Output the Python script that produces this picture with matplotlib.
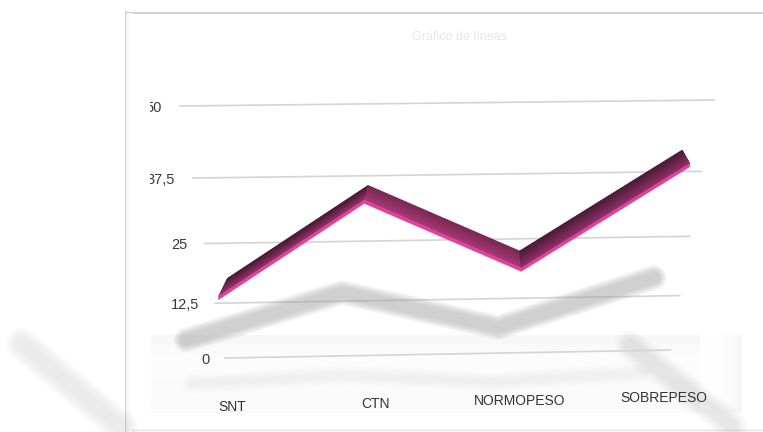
import numpy as np
import matplotlib
matplotlib.use('Agg')
import matplotlib.pyplot as plt
import matplotlib.transforms as mtransforms
from matplotlib.patches import Polygon

# chart data
categories = ['SNT', 'CTN', 'NORMOPESO', 'SOBREPESO']
values = [14, 33, 19, 39]
yticks = [0, 12.5, 25, 37.5, 50]
ytick_labels = ['0', '12,5', '25', '37,5', '50']
title = 'Gráfico de líneas'


class Perspective(mtransforms.Transform):
    """Projective (homography) mapping from chart units to canvas pixels."""
    input_dims = 2
    output_dims = 2
    is_separable = False

    def __init__(self, H):
        super().__init__()
        self.H = H

    def transform_non_affine(self, values):
        values = np.asarray(values, dtype=float)
        p = np.column_stack([values, np.ones(len(values))]) @ self.H.T
        return p[:, :2] / p[:, 2:3]


def homography(src, dst):
    A, b = [], []
    for (u, v), (x, y) in zip(src, dst):
        A.append([u, v, 1, 0, 0, 0, -u * x, -v * x]); b.append(x)
        A.append([0, 0, 0, u, v, 1, -u * y, -v * y]); b.append(y)
    h = np.linalg.solve(np.array(A), np.array(b))
    return np.append(h, 1).reshape(3, 3)


def soft_line(ax, x, y, transform, color, widths, alpha, z):
    for w in widths:
        ax.plot(x, y, transform=transform, color=color, lw=w, alpha=alpha,
                solid_capstyle='round', solid_joinstyle='round', zorder=z)


plt.rcParams['font.family'] = ['Liberation Sans', 'DejaVu Sans']

fig = plt.figure(figsize=(7.63, 4.32), dpi=100)
ax = fig.add_axes([0, 0, 1, 1])
ax.set_xlim(0, 763)
ax.set_ylim(432, 0)
ax.axis('off')

# tilted chart plane: category index / value -> canvas pixels
u_lo, u_hi = -0.03, 3.08
H = homography([(u_lo, 0), (u_hi, 0), (u_lo, 50), (u_hi, 50)],
               [(225, 358), (670, 350), (180, 106), (714, 100)])
plane = Perspective(H)
persp = plane + ax.transData
# depth of the extruded line, towards the vanishing point
depth = mtransforms.Affine2D().translate(-472, 219).scale(0.965).translate(472, -219)
# floor shadow and labels
shadow_tr = mtransforms.Affine2D().scale(156, -2.5).translate(186, 375) + ax.transData
reflect_tr = mtransforms.Affine2D().scale(150, -0.45).translate(192, 390) + ax.transData
label_tr = mtransforms.Affine2D(np.array([[144.0, 0, 232], [-3.0, 1, 407], [0, 0, 1]])) + ax.transData

# card frame
ax.plot([125.5, 125.5], [12, 432], color='#c4c4c4', lw=1.1, zorder=1)
ax.plot([125.5, 763], [12.5, 12.5], color='#c8c8c8', lw=1.1, zorder=1)
ax.plot([129, 763], [429.5, 429.5], color='#e3e3e3', lw=1.0, zorder=1)
grad = np.linspace(1, 0, 20)[None, :]
ax.imshow(grad, extent=(126, 132, 432, 13), cmap='Greys', vmin=0, vmax=10,
          aspect='auto', zorder=1)

# floor under the chart
floor = np.concatenate([np.linspace(0.07, 0.02, 12), np.linspace(0.02, 0.04, 28)])[:, None]
ax.imshow(floor, extent=(151, 742, 413, 335), cmap='Greys', vmin=0, vmax=1,
          aspect='auto', zorder=1)
ax.imshow(np.linspace(0, 1, 30)[None, :] ** 2, extent=(700, 742, 413, 335), cmap='Greys',
          vmin=0, vmax=14, aspect='auto', zorder=1)

# reflections of the card on the floor
soft_line(ax, [22, 122], [344, 428], ax.transData, '#a0a0a0', np.linspace(24, 8, 8), 0.025, 1)
soft_line(ax, [630, 732], [345, 426], ax.transData, '#a0a0a0', np.linspace(22, 8, 8), 0.03, 1.5)
soft_line(ax, range(len(values)), values, reflect_tr, '#a0a0a0', np.linspace(14, 4, 6), 0.02, 1.5)

# title
ax.text(460, 37, title, ha='center', va='center', fontsize=9, color='#e6e6e6', zorder=2)

# gridlines and value labels
clip = mtransforms.Bbox.from_extents(150, 0, 763, 432)
for v, lab in zip(yticks, ytick_labels):
    ax.plot([u_lo, u_hi], [v, v], transform=persp, color='#d4d4d4', lw=1.2, zorder=2)
    t = ax.text(-0.137, v, lab, transform=persp, ha='right', va='center_baseline',
                fontsize=10.5, color='#3a3a3a', zorder=5)
    t.set_clip_box(clip)
    t.set_clip_on(True)

# category labels on the floor
for i, cat in enumerate(categories):
    ax.text(i, 0, cat, transform=label_tr, ha='center', va='center',
            fontsize=10, color='#333333', zorder=5)

# soft shadow of the line
idx = np.arange(len(values))
soft_line(ax, idx, values, shadow_tr, '#a0a0a0', np.linspace(18, 8, 9), 0.065, 3)

# extruded line: top face with a dark-to-light gradient, pink front edge
front = plane.transform(np.column_stack([idx, values]))
back = depth.transform(front)
face_cols = [('#3c1128', '#8e2c64'), ('#74214f', '#a4346f'), ('#441430', '#8c2b62')]
n = 10
for i in range(len(values) - 1):
    c0 = np.array(matplotlib.colors.to_rgb(face_cols[i][0]))
    c1 = np.array(matplotlib.colors.to_rgb(face_cols[i][1]))
    for k in range(n):
        t0, t1 = k / n, (k + 1) / n
        a0 = back[i] + (front[i] - back[i]) * t0
        b0 = back[i + 1] + (front[i + 1] - back[i + 1]) * t0
        a1 = back[i] + (front[i] - back[i]) * t1
        b1 = back[i + 1] + (front[i + 1] - back[i + 1]) * t1
        col = c0 + (c1 - c0) * (k + 0.5) / n
        ax.add_patch(Polygon([a0, b0, b1, a1], closed=True, facecolor=col,
                             edgecolor=col, lw=0.4, zorder=4))

edge = np.vstack([front, (front + [0, 3.4])[::-1]])
ax.add_patch(Polygon(edge, closed=True, facecolor='#e2409a', edgecolor='#e2409a',
                     lw=0.3, zorder=4))

fig.savefig('out.png', dpi=100)
